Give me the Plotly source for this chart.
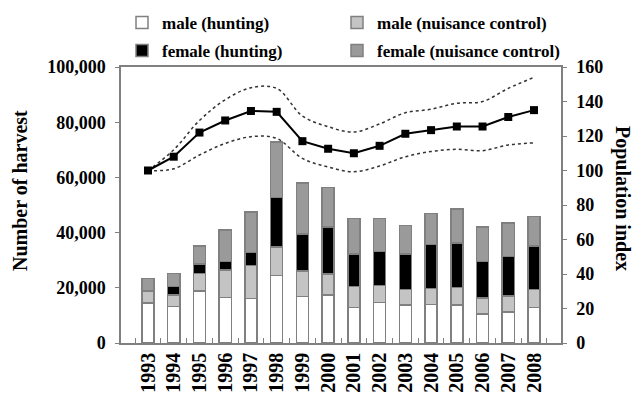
import plotly.graph_objects as go

years = ["1993", "1994", "1995", "1996", "1997", "1998", "1999", "2000",
         "2001", "2002", "2003", "2004", "2005", "2006", "2007", "2008"]
male_hunting = [14500, 13200, 18900, 16500, 16100, 24400, 16800, 17400,
                12900, 14600, 13800, 14000, 13800, 10500, 11200, 12900]
male_nuisance = [4400, 4200, 6300, 9900, 11900, 10400, 9200, 7600,
                 7500, 6200, 5600, 5800, 6400, 5800, 5800, 6500]
female_hunting = [0, 3000, 3400, 3200, 4800, 18000, 13500, 17100,
                  11800, 12300, 12800, 15900, 16100, 13200, 14300, 15700]
female_nuisance = [4500, 4800, 6500, 11300, 14700, 20100, 18400, 14300,
                   13000, 12100, 10400, 11200, 12300, 12500, 12100, 10700]
pop_index = [100, 108, 122, 129, 134.5, 134, 117, 112.6,
             110, 114.3, 121.3, 123.4, 125.5, 125.5, 131, 135]
pop_upper = [100, 112, 129, 141, 148, 147.6, 131.6, 125.4,
             122.3, 127, 133.5, 135.5, 139, 140, 147.6, 154]
pop_lower = [100, 101, 109, 115.7, 119.6, 118.6, 107, 102,
             99.3, 102.6, 108, 111, 112.3, 111.5, 114.8, 116]

FONT = "Liberation Serif"
EDGE = "#808080"

fig = go.Figure()
bar_specs = [
    ("male (hunting)", male_hunting, "#ffffff", "legend"),
    ("male (nuisance control)", male_nuisance, "#c4c4c4", "legend2"),
    ("female (hunting)", female_hunting, "#000000", "legend3"),
    ("female (nuisance control)", female_nuisance, "#9a9a9a", "legend4"),
]
for name, vals, col, lg in bar_specs:
    fig.add_trace(go.Bar(x=years, y=vals, name=name, legend=lg,
                         marker=dict(color=col, line=dict(color=EDGE, width=1.5)),
                         yaxis="y"))

for vals in (pop_upper, pop_lower):
    fig.add_trace(go.Scatter(x=years, y=vals, yaxis="y2", mode="lines",
                             line=dict(color="#333333", width=1.5, dash="dot", shape="spline"),
                             showlegend=False))
fig.add_trace(go.Scatter(x=years, y=pop_index, yaxis="y2", mode="lines+markers",
                         line=dict(color="#000000", width=2),
                         marker=dict(symbol="square", size=8, color="#000000"),
                         showlegend=False))

tickfont = dict(family=FONT, size=18, color="#000000", weight="bold")
xtickfont = dict(family=FONT, size=20, color="#000000", weight="bold")
legfont = dict(family=FONT, size=17, color="#000000", weight="bold")

legend_common = dict(orientation="v", xref="container", yref="container",
                     xanchor="left", yanchor="middle", itemwidth=30,
                     font=legfont, bgcolor="rgba(0,0,0,0)")

col1_x, col2_x = 122 / 635, 337 / 635
row1_y, row2_y = 1 - 23 / 394, 1 - 51 / 394

fig.update_layout(
    width=635, height=394,
    margin=dict(l=121, r=74, t=67, b=51, autoexpand=False),
    paper_bgcolor="white", plot_bgcolor="white",
    barmode="stack", bargap=0.53,
    font=dict(family=FONT, color="#000000"),
    legend=dict(legend_common, x=col1_x, y=row1_y),
    legend2=dict(legend_common, x=col2_x, y=row1_y),
    legend3=dict(legend_common, x=col1_x, y=row2_y),
    legend4=dict(legend_common, x=col2_x, y=row2_y),
    xaxis=dict(type="category", showline=True, linecolor=EDGE, linewidth=1.5, mirror=True,
               ticks="inside", tickson="boundaries", ticklen=5, tickcolor=EDGE,
               tickangle=-90, tickfont=xtickfont, showgrid=False, zeroline=False),
    yaxis=dict(range=[0, 100000], dtick=20000, tickformat=",d",
               showline=True, linecolor=EDGE, linewidth=1.5,
               ticks="outside", ticklen=4, tickcolor=EDGE, tickfont=tickfont,
               ticklabelstandoff=6, showgrid=False, zeroline=False),
    yaxis2=dict(range=[0, 160], dtick=20, overlaying="y", side="right",
                showline=True, linecolor=EDGE, linewidth=1.5,
                ticks="outside", ticklen=4, tickcolor=EDGE, tickfont=tickfont,
                ticklabelstandoff=6, showgrid=False, zeroline=False),
    annotations=[
        dict(text="Number of harvest", xref="paper", yref="paper",
             x=(20 - 121) / 440, y=(343 - 191) / 276, textangle=-90,
             showarrow=False, xanchor="center", yanchor="middle",
             font=dict(family=FONT, size=20, color="#000000", weight="bold")),
        dict(text="Population index", xref="paper", yref="paper",
             x=(623 - 121) / 440, y=(343 - 198) / 276, textangle=90,
             showarrow=False, xanchor="center", yanchor="middle",
             font=dict(family=FONT, size=20, color="#000000", weight="bold")),
    ],
)

fig.write_html("out.html")
